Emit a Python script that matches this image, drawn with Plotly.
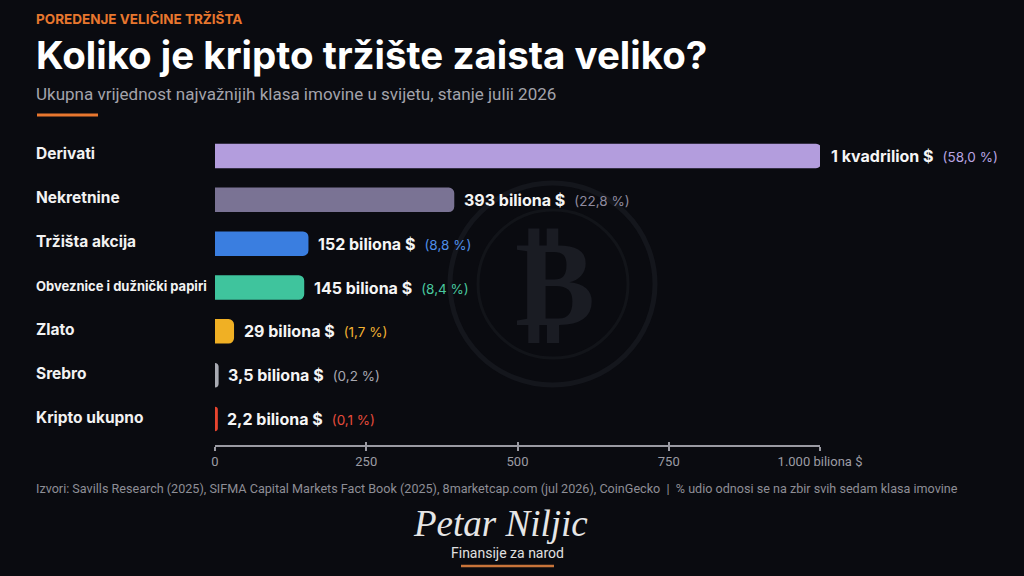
import plotly.graph_objects as go

categories = ["Derivati", "Nekretnine", "Tržišta akcija", "Obveznice i dužnički papiri",
              "Zlato", "Srebro", "Kripto ukupno"]
values = [1000, 393, 152, 145, 29, 3.5, 2.2]  # u bilionima $
value_labels = ["1 kvadrilion $", "393 biliona $", "152 biliona $", "145 biliona $",
                "29 biliona $", "3,5 biliona $", "2,2 biliona $"]
shares = ["(58,0 %)", "(22,8 %)", "(8,8 %)", "(8,4 %)", "(1,7 %)", "(0,2 %)", "(0,1 %)"]
bar_colors = ["#b39ddd", "#7a7394", "#3a7ee0", "#3fc49d", "#f0b024", "#a9abb3", "#e8452f"]
share_colors = ["#b9a5e2", "#8e8a9e", "#4f8fe8", "#49c99f", "#f2b233", "#a8a8b0", "#e54b3c"]
tick_vals = [0, 250, 500, 750, 1000]
tick_text = ["0", "250", "500", "750", "1.000 biliona $"]

W, H = 1024, 576
BG = "#0a0b10"
ORANGE = "#e8772e"
AXIS_Y = 446

def px_x(p):
    return p / W

def px_y(p):
    return 1 - p / H

fig = go.Figure()
fig.add_trace(go.Bar(
    x=values, y=categories, orientation="h",
    marker=dict(color=bar_colors, line=dict(color=bar_colors, width=3), cornerradius=4),
    width=0.49, hoverinfo="skip", cliponaxis=False,
))
# invisible helper trace for the secondary (upward tick) axis
fig.add_trace(go.Scatter(x=[0], y=[categories[0]], xaxis="x2", mode="markers",
                         marker=dict(opacity=0), hoverinfo="skip", showlegend=False))

annotations = []
for cat, v, vl, sh, sc in zip(categories, values, value_labels, shares, share_colors):
    fs = 13 if len(cat) > 20 else 15.5
    annotations.append(dict(
        x=px_x(34), xref="paper", y=cat, yref="y", xanchor="left", yanchor="middle",
        text=f"<b>{cat}</b>", showarrow=False,
        font=dict(family="Inter", size=fs, color="#f2f2f2"), yshift=2))
    annotations.append(dict(
        x=v, xref="x", y=cat, yref="y", xanchor="left", yanchor="middle",
        xshift=9,
        text=f"<b>{vl}</b>  <span style='font-size:13.5px;color:{sc}'>{sh}</span>",
        showarrow=False, font=dict(family="Inter", size=16, color="#f5f5f5")))

# headings
annotations += [
    dict(x=px_x(34), y=px_y(19), xref="paper", yref="paper", xanchor="left", yanchor="middle",
         text="<b>POREDENJE VELIČINE TRŽIŠTA</b>", showarrow=False,
         font=dict(family="Inter", size=13.5, color=ORANGE)),
    dict(x=px_x(34), y=px_y(55), xref="paper", yref="paper", xanchor="left", yanchor="middle",
         text="<b>Koliko je kripto tržište zaista veliko?</b>", showarrow=False,
         font=dict(family="Inter", size=38.5, color="#ffffff")),
    dict(x=px_x(34), y=px_y(94), xref="paper", yref="paper", xanchor="left", yanchor="middle",
         text="Ukupna vrijednost najvažnijih klasa imovine u svijetu, stanje julii 2026", showarrow=False,
         font=dict(family="Roboto", size=17, color="#a3a3ab")),
    dict(x=px_x(34), y=px_y(488), xref="paper", yref="paper", xanchor="left", yanchor="middle",
         text="Izvori: Savills Research (2025), SIFMA Capital Markets Fact Book (2025), 8marketcap.com (jul 2026), CoinGecko  |  % udio odnosi se na zbir svih sedam klasa imovine",
         showarrow=False, font=dict(family="Roboto", size=12.6, color="#8e8e96")),
    dict(x=px_x(500), y=px_y(523), xref="paper", yref="paper", xanchor="center", yanchor="middle",
         text="<i>Petar Niljic</i>", showarrow=False,
         font=dict(family="Liberation Serif", size=37, color="#e6e6e6")),
    dict(x=px_x(507), y=px_y(553), xref="paper", yref="paper", xanchor="center", yanchor="middle",
         text="Finansije za narod", showarrow=False,
         font=dict(family="Roboto", size=14, color="#e0e0e0")),
    # bitcoin watermark glyph
    dict(x=px_x(555), y=px_y(283), xref="paper", yref="paper", xanchor="center", yanchor="middle",
         text="<b>₿</b>", showarrow=False,
         font=dict(family="DejaVu Sans", size=120, color="#1a1c23")),
]

shapes = [
    dict(type="line", xref="paper", yref="paper", x0=px_x(37), x1=px_x(98), y0=px_y(115), y1=px_y(115),
         line=dict(color=ORANGE, width=3)),
    dict(type="line", xref="paper", yref="paper", x0=px_x(461), x1=px_x(554), y0=px_y(566), y1=px_y(566),
         line=dict(color="#c8743a", width=2.5)),
    dict(type="circle", xref="paper", yref="paper", layer="below",
         x0=px_x(450), x1=px_x(655), y0=px_y(385), y1=px_y(183),
         line=dict(color="#14161c", width=5)),
    dict(type="circle", xref="paper", yref="paper", layer="below",
         x0=px_x(478), x1=px_x(628), y0=px_y(358), y1=px_y(210),
         line=dict(color="#121419", width=3)),
]

axis_common = dict(domain=[px_x(215), px_x(820)], range=[0, 1000], anchor="free",
                   position=px_y(AXIS_Y), showgrid=False, zeroline=False, automargin=False,
                   tickvals=tick_vals, tickcolor="#9a9aa2", tickwidth=1.5, ticklen=4)

fig.update_layout(
    width=W, height=H, margin=dict(l=0, r=0, t=0, b=0, autoexpand=False),
    paper_bgcolor=BG, plot_bgcolor="rgba(0,0,0,0)",
    showlegend=False, annotations=annotations, shapes=shapes,
    xaxis=dict(**axis_common, showline=True, linecolor="#9a9aa2", linewidth=1.5,
               ticks="outside", ticktext=tick_text,
               tickfont=dict(family="Roboto", size=13, color="#9c9ca4")),
    xaxis2=dict(**axis_common, overlaying="x", side="bottom", ticks="inside",
                showline=False, showticklabels=False),
    yaxis=dict(domain=[px_y(441), px_y(134)], autorange="reversed", automargin=False,
               showticklabels=False, showgrid=False, zeroline=False, showline=False),
)

fig.write_html("out.html")
